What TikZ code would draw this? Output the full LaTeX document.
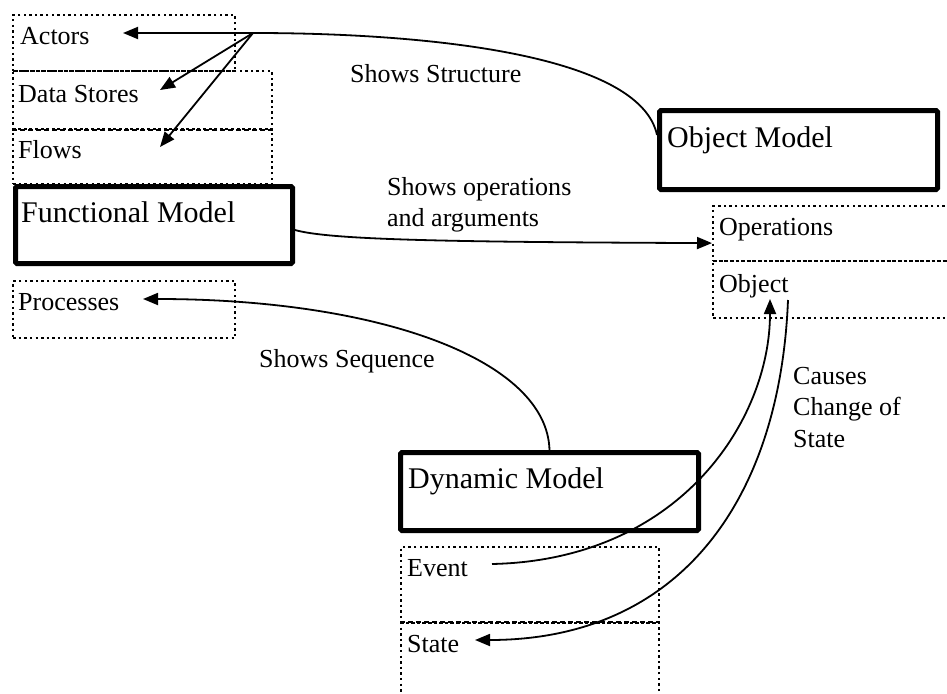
\documentclass[tikz,border=0pt]{standalone}
\usepackage{fontspec}
\setmainfont{Liberation Serif}
\usetikzlibrary{arrows.meta}
\begin{document}
\begin{tikzpicture}[x=1pt,y=-1pt,
  dotbox/.style={draw, line width=2.2pt, dash pattern=on 2.4pt off 3.2pt, inner sep=0pt, anchor=north west},
  sepline/.style={line width=2.2pt, dash pattern=on 5pt off 3pt},
  modelbox/.style={draw, line width=5pt, rounded corners=1.5pt, inner sep=0pt, anchor=north west},
  lbl/.style={font=\fontsize{26pt}{31.5pt}\selectfont, inner sep=0pt, anchor=base west},
  big/.style={font=\fontsize{30pt}{36pt}\selectfont, inner sep=0pt, anchor=base west},
  conn/.style={line width=1.8pt, -{Triangle[length=15pt,width=12pt]}},
  plain/.style={line width=1.8pt}]
\useasboundingbox (0,0) rectangle (947,693);
% boxes
\node[dotbox, minimum width=222pt, minimum height=56pt] (actB) at (12,14) {};
\node[dotbox, minimum width=259pt, minimum height=58pt] (dsB) at (12,70) {};
\node[dotbox, minimum width=259pt, minimum height=55pt] (flB) at (12,128) {};
\draw[sepline] (dsB.south west) -- (dsB.south east);
\node[modelbox, minimum width=277pt, minimum height=77pt] (fm) at (13,184) {};
\node[dotbox, minimum width=222pt, minimum height=57pt] (prB) at (12,280) {};
\node[modelbox, minimum width=278pt, minimum height=79pt] (om) at (657,108) {};
\node[dotbox, minimum width=245pt, minimum height=55pt] (opB) at (712,205) {};
\node[dotbox, minimum width=245pt, minimum height=57pt] (obB) at (712,260) {};
\node[modelbox, minimum width=298pt, minimum height=78pt] (dm) at (398,450) {};
\node[dotbox, minimum width=258pt, minimum height=76pt] (evB) at (400,546) {};
\node[dotbox, minimum width=258pt, minimum height=90pt] (stB) at (400,622) {};
\draw[sepline] (stB.north west) -- (stB.north east);
% texts
\node[lbl] (tAct) at (20,45) {Actors};
\node[lbl] (tDS) at (18,102) {Data Stores};
\node[lbl] (tFl) at (18,158) {Flows};
\node[big] (tFM) at (21,222) {Functional Model};
\node[lbl] (tPr) at (18,310) {Processes};
\node[big] (tOM) at (667,147) {Object Model};
\node[lbl] (tOp) at (719,235) {Operations};
\node[lbl] (tOb) at (719,292) {Object};
\node[big] (tDM) at (408,488) {Dynamic Model};
\node[lbl] (tEv) at (407,576) {Event};
\node[lbl] (tSt) at (407,652) {State};
\node[lbl] (lStruct) at (350,82) {Shows Structure};
\node[lbl, anchor=north west, align=left] (lOps) at (387,177) {Shows operations\\and arguments};
\node[lbl] (lSeq) at (259,367) {Shows Sequence};
\node[lbl, anchor=north west, align=left] (lCause) at (793,367) {Causes\\Change of\\State};
% connectors
\coordinate (fan) at (253,33);
\coordinate (tipA) at (123,33);
\coordinate (tipD) at (160,90);
\coordinate (tipF) at (160,147);
\draw[plain] ([yshift=15pt]om.west) .. controls (640,55) and (430,33) .. (fan);
\draw[conn] (fan) -- (tipA);
\draw[conn] (fan) -- (tipD);
\draw[conn] (fan) -- (tipF);
\draw[conn] ([yshift=-5pt]fm.east) .. controls (330,240) and (450,242) .. ([yshift=-9.5pt]opB.west);
\coordinate (tipP) at (143,299);
\draw[conn] (dm.north) .. controls (547,360) and (380,299) .. (tipP);
\coordinate (evStart) at (492,564);
\coordinate (tipO) at (770,299);
\draw[conn] (evStart) .. controls (680,560) and (770,420) .. (tipO);
\coordinate (obStart) at (788,300);
\coordinate (tipS) at (475,640);
\draw[conn] (obStart) .. controls (780,500) and (680,640) .. (tipS);
\end{tikzpicture}
\end{document}
